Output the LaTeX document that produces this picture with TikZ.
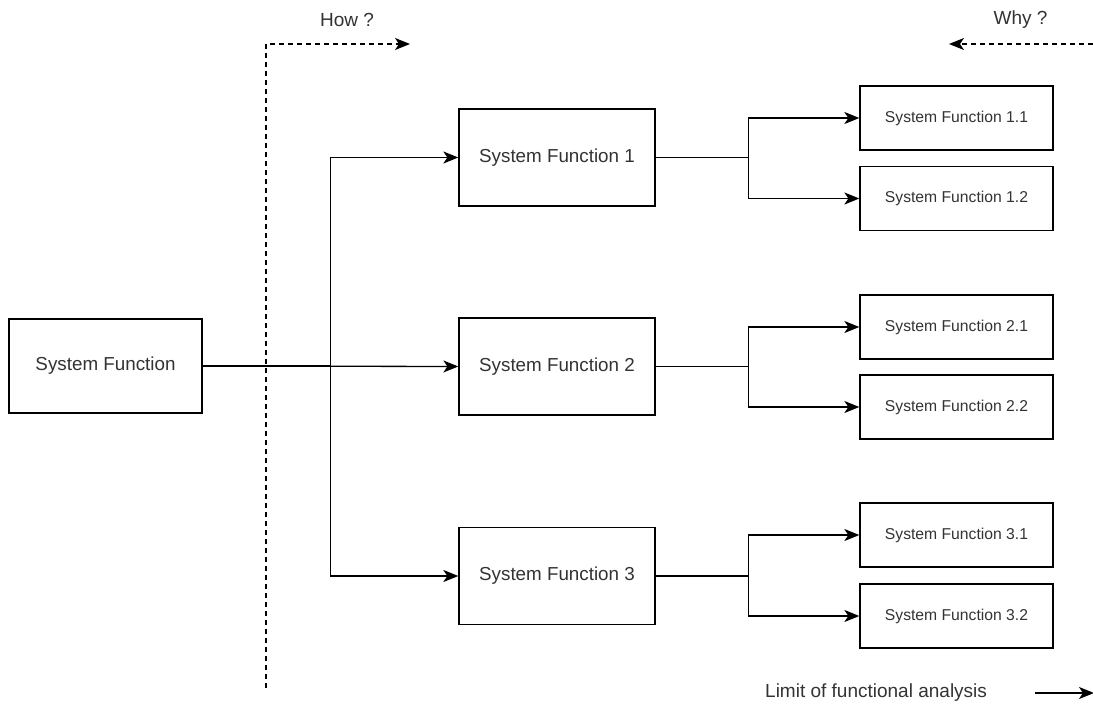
\documentclass[tikz,border=0pt]{standalone}
\usepackage{fontspec}
\setmainfont{Liberation Sans}
\usetikzlibrary{arrows.meta}
\begin{document}
\begin{tikzpicture}[x=1pt,y=-1pt,
  box/.style={draw=black,line width=1.3pt,fill=white,text=black!80,font=\fontsize{18.8}{22}\selectfont,inner sep=0pt},
  bigbox/.style={box,minimum width=196pt,minimum height=97pt},
  rootbox/.style={box,minimum width=193pt,minimum height=94pt},
  leafbox/.style={box,minimum width=193pt,minimum height=64pt,font=\fontsize{15.7}{18}\selectfont},
  arr/.style={line width=1.3pt,-{Stealth[length=15pt,width=12pt,inset=4pt]}},
  dasharr/.style={arr,dash pattern=on 5pt off 4pt},
  lbl/.style={text=black!80,font=\fontsize{19}{22}\selectfont,inner sep=0pt}]
\useasboundingbox (0,0) rectangle (1093,706);

% boxes
\node[rootbox] (sf) at (105.5,366) {System Function};
\node[bigbox] (sf1) at (557,157.5) {System Function 1};
\node[bigbox] (sf2) at (557,366.5) {System Function 2};
\node[bigbox] (sf3) at (557,576) {System Function 3};
\node[leafbox] (sf11) at (956.5,118) {System Function 1.1};
\node[leafbox] (sf12) at (956.5,198.5) {System Function 1.2};
\node[leafbox] (sf21) at (956.5,327) {System Function 2.1};
\node[leafbox] (sf22) at (956.5,407) {System Function 2.2};
\node[leafbox] (sf31) at (956.5,535) {System Function 3.1};
\node[leafbox] (sf32) at (956.5,616) {System Function 3.2};

% how / why guides
\coordinate (howbot) at (266,688);
\coordinate (howtop) at (266,44);
\coordinate (howend) at (410,44);
\draw[dasharr] (howbot) -- (howtop) -- (howend);
\node[lbl] (how) at (347,20) {How ?};
\coordinate (whystart) at (1093,44);
\coordinate (whyend) at (949,44);
\draw[dasharr] (whystart) -- (whyend);
\node[lbl] (why) at (1020.5,20) {Why ?};

% limit of the analysis
\node[lbl,anchor=west] (limit) at (765,693) {Limit of functional analysis};
\coordinate (limstart) at (1035,693);
\coordinate (limend) at (1094,693);
\draw[arr] (limstart) -- (limend);

% connectors
\draw[arr] (sf.east) -- (sf2.west);
\draw[arr] (sf.east) -- ++(128,0) |- (sf1.west);
\draw[arr] (sf.east) -- ++(128,0) |- (sf3.west);
\foreach \p/\a/\b in {sf1/sf11/sf12, sf2/sf21/sf22, sf3/sf31/sf32}{
  \draw[arr] (\p.east) -- ++(93,0) |- (\a.west);
  \draw[arr] (\p.east) -- ++(93,0) |- (\b.west);
}
\end{tikzpicture}
\end{document}
